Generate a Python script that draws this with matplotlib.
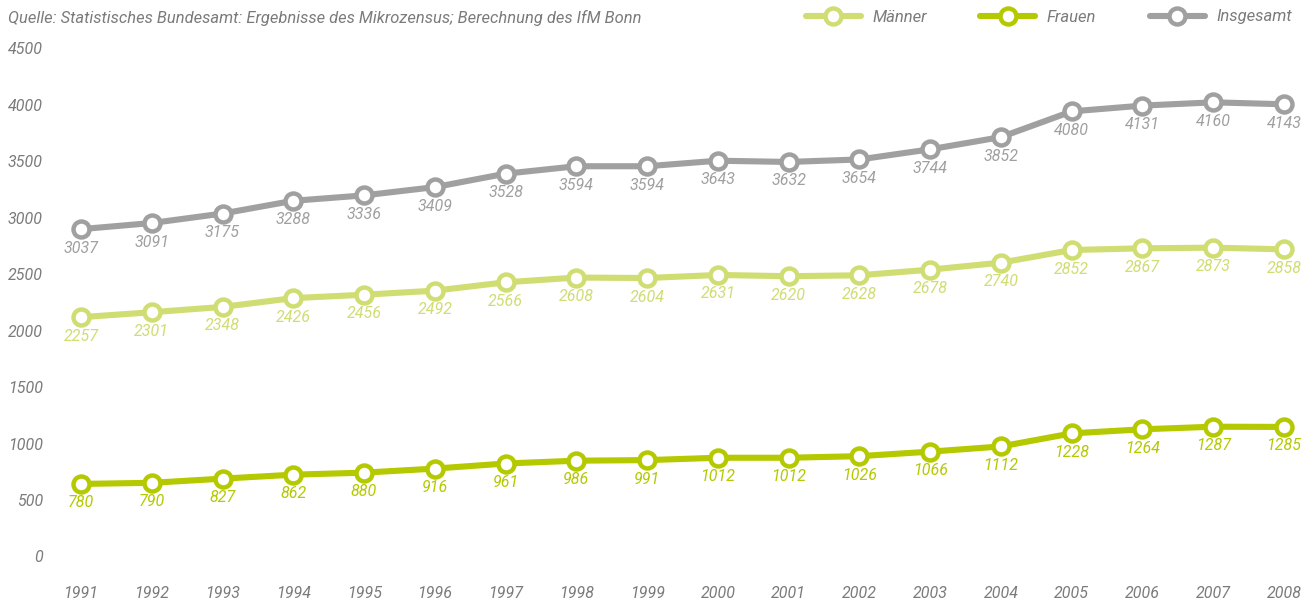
import numpy as np
import matplotlib.pyplot as plt
from matplotlib.lines import Line2D

years = np.arange(1991, 2009)
maenner = [2257, 2301, 2348, 2426, 2456, 2492, 2566, 2608, 2604, 2631,
           2620, 2628, 2678, 2740, 2852, 2867, 2873, 2858]
frauen = [780, 790, 827, 862, 880, 916, 961, 986, 991, 1012,
          1012, 1026, 1066, 1112, 1228, 1264, 1287, 1285]
insgesamt = [3037, 3091, 3175, 3288, 3336, 3409, 3528, 3594, 3594, 3643,
             3632, 3654, 3744, 3852, 4080, 4131, 4160, 4143]
yticks = [0, 500, 1000, 1500, 2000, 2500, 3000, 3500, 4000, 4500]

series = [("Männer", maenner, "#d0dd72"),
          ("Frauen", frauen, "#b4c900"),
          ("Insgesamt", insgesamt, "#a0a0a1")]

W, H = 1312, 605
fig = plt.figure(figsize=(W / 100, H / 100), dpi=100)
plt.rcParams['font.family'] = ['Roboto', 'DejaVu Sans']

# axes: left 40px .. right 1310px, bottom at zero line (572px) .. top 40px
ax = fig.add_axes([40 / W, (H - 572) / H, 1270 / W, 532 / H])
step = (1284 - 81) / 17
ax.set_xlim(1991 - (81 - 40) / step, 2008 + (1310 - 1284) / step)
ax.set_ylim(0, 532 / 0.1129)
ax.axis('off')

txtgray = "#7b7b7b"
fs = 11.5

for name, vals, col in series:
    ax.plot(years, vals, color=col, lw=4.4, marker='o', ms=11.5,
            mfc='white', mec=col, mew=3.2, solid_capstyle='round', zorder=3)
    for x, v in zip(years, vals):
        ax.annotate(str(v), xy=(x, v), xytext=(0, -19), textcoords='offset pixels',
                    ha='center', va='center', color=col, fontsize=fs,
                    style='italic', zorder=4)

# y tick labels sit just above their value level
for v in yticks:
    ax.annotate(str(v), xy=(3 / 1270, v), xycoords=('axes fraction', 'data'),
                xytext=(0, 14), textcoords='offset pixels', ha='right', va='center',
                color=txtgray, fontsize=fs, style='italic', annotation_clip=False)

# year labels below zero line
for x in years:
    ax.annotate(str(x), xy=(x, 0), xytext=(0, -22), textcoords='offset pixels',
                ha='center', va='center', color=txtgray, fontsize=fs,
                style='italic', annotation_clip=False)

fig.text(8 / W, 1 - 18 / H,
         "Quelle: Statistisches Bundesamt: Ergebnisse des Mikrozensus; Berechnung des IfM Bonn",
         ha='left', va='center', color=txtgray, fontsize=11.9, style='italic')

handles = [Line2D([], [], color=c, lw=4.4, marker='o', ms=11.5, mfc='white',
                  mec=c, mew=3.2, solid_capstyle='round') for _, _, c in series]
leg = fig.legend(handles, [s[0] for s in series], loc='center right',
                 bbox_to_anchor=(1292 / W, 1 - 17 / H), ncol=3, frameon=False,
                 handlelength=3.3, handletextpad=0.7, columnspacing=3.2,
                 borderpad=0.0, borderaxespad=0.0,
                 prop={'size': 12, 'style': 'italic'})
for t in leg.get_texts():
    t.set_color(txtgray)

fig.savefig("out.png", dpi=100)
